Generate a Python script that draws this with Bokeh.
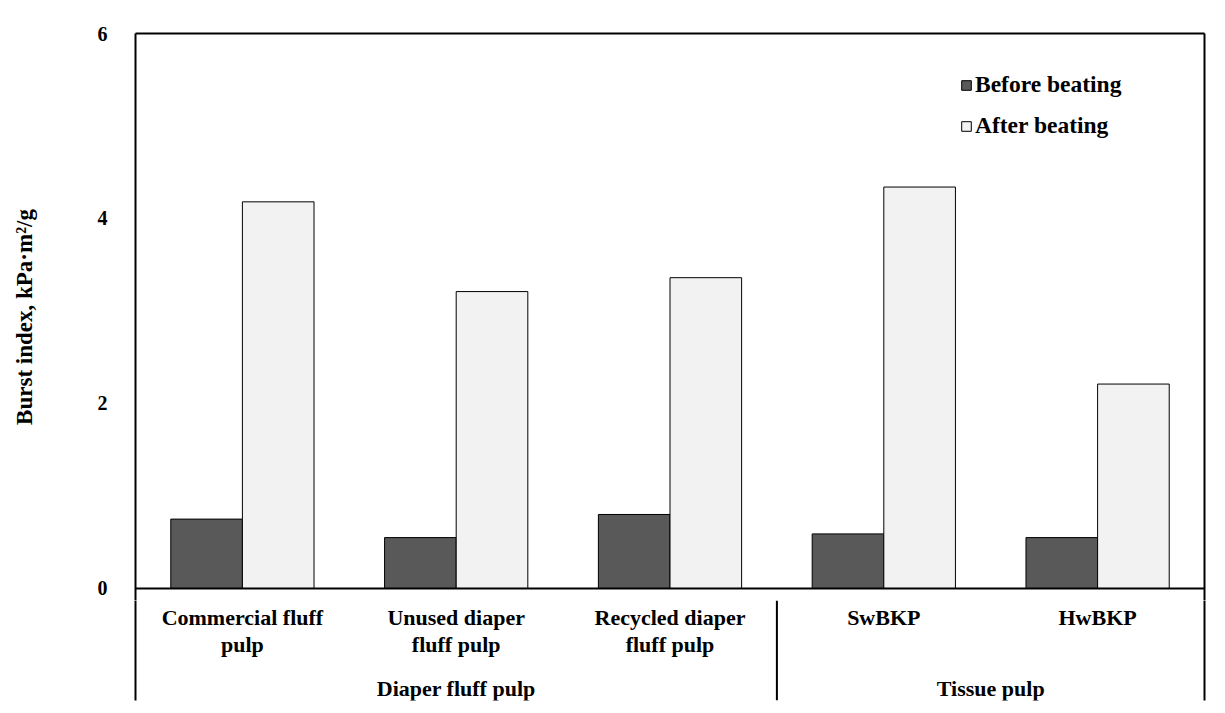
import numpy as np
from bokeh.plotting import figure
from bokeh.layouts import column
from bokeh.models import Range1d, FixedTicker, Span, Legend, LegendItem, ColumnDataSource, LinearAxis
from bokeh.core.properties import value
from bokeh.embed import file_html
from bokeh.resources import INLINE

categories = ["Commercial fluff\npulp", "Unused diaper\nfluff pulp", "Recycled diaper\nfluff pulp", "SwBKP", "HwBKP"]
groups = ["Diaper fluff pulp", "Tissue pulp"]
group_sizes = [3, 2]
before = [0.75, 0.55, 0.80, 0.59, 0.55]
after = [4.18, 3.21, 3.36, 4.34, 2.21]
series_names = ["Before beating", "After beating"]
y_ticks = [0, 2, 4, 6]
y_title = "Burst index, kPa·m²/g"

FONT = "Liberation Serif"
n = len(categories)
centers = np.arange(n) + 0.5
bw = 0.335
ymin = -1.21
ysplit = -0.13


def bare_axis():
    ax = LinearAxis(ticker=FixedTicker(ticks=[]), axis_line_width=2, axis_line_color="black",
                    major_tick_out=0, major_tick_in=0, minor_tick_out=0, minor_tick_in=0)
    return ax


xr = Range1d(0, n)
p = figure(width=1217, height=600, output_backend="svg", toolbar_location=None,
           x_range=xr, y_range=Range1d(ysplit, 6),
           x_axis_location=None,
           min_border_left=135, min_border_right=13, min_border_top=33, min_border_bottom=0)
p.outline_line_color = None
p.grid.visible = False
p.background_fill_color = "white"
p.border_fill_color = "white"

ya = p.yaxis[0]
ya.ticker = FixedTicker(ticks=y_ticks)
ya.major_tick_out = 0
ya.major_tick_in = 0
ya.minor_tick_out = 0
ya.minor_tick_in = 0
ya.axis_line_width = 2
ya.axis_line_color = "black"
ya.major_label_standoff = 28
ya.major_label_text_font = FONT
ya.major_label_text_font_style = "bold"
ya.major_label_text_font_size = "20px"
ya.major_label_text_color = "black"
ya.axis_label = y_title
ya.axis_label_text_font = FONT
ya.axis_label_text_font_style = "bold"
ya.axis_label_text_font_size = "23px"
ya.axis_label_text_color = "black"
ya.axis_label_standoff = 58

p.add_layout(bare_axis(), "right")
p.add_layout(bare_axis(), "above")

src = ColumnDataSource(dict(xb=centers - bw / 2, xa=centers + bw / 2, before=before, after=after))
r1 = p.vbar(x="xb", top="before", bottom=0, width=bw, source=src,
            fill_color="#595959", line_color="black", line_width=1)
r2 = p.vbar(x="xa", top="after", bottom=0, width=bw, source=src,
            fill_color="#f2f2f2", line_color="black", line_width=1)

p.add_layout(Span(location=0, dimension="width", line_color="black", line_width=2))

legend = Legend(items=[LegendItem(label=series_names[0], renderers=[r1]),
                       LegendItem(label=series_names[1], renderers=[r2])],
                location=(825, 461), orientation="vertical",
                glyph_width=12, glyph_height=12, label_standoff=3,
                label_text_font=FONT, label_text_font_style="bold", label_text_font_size="23.5px",
                label_text_color="black", spacing=14, padding=0, margin=0,
                border_line_color=None, background_fill_alpha=0, label_height=20)
p.add_layout(legend)

# category / group label strip below the plot
b = figure(width=1217, height=105, output_backend="svg", toolbar_location=None,
           x_range=xr, y_range=Range1d(ymin, ysplit),
           x_axis_location=None, y_axis_location=None,
           min_border_left=135, min_border_right=13, min_border_top=0, min_border_bottom=5)
b.outline_line_color = None
b.grid.visible = False
b.background_fill_color = "white"
b.border_fill_color = "white"
b.add_layout(bare_axis(), "left")
b.add_layout(bare_axis(), "right")

bounds = [0.0]
for g in group_sizes:
    bounds.append(bounds[-1] + g)
for loc in bounds[1:-1]:
    b.add_layout(Span(location=loc, dimension="height", line_color="black", line_width=2))

lsrc = ColumnDataSource(dict(x=centers, y=[ysplit] * n, t=categories))
b.text(x="x", y="y", text="t", source=lsrc, text_font=value(FONT), text_font_style="bold",
       text_font_size="22px", text_align="center", text_baseline="top", y_offset=4,
       text_line_height=1.1, text_color="black")

gcent = [(bounds[i] + bounds[i + 1]) / 2 for i in range(len(groups))]
gsrc = ColumnDataSource(dict(x=gcent, y=[ysplit] * len(groups), t=groups))
b.text(x="x", y="y", text="t", source=gsrc, text_font=value(FONT), text_font_style="bold",
       text_font_size="22px", text_align="center", text_baseline="middle", y_offset=88,
       text_color="black")

layout = column(p, b, spacing=0)
open("out.html", "w").write(file_html(layout, INLINE))
